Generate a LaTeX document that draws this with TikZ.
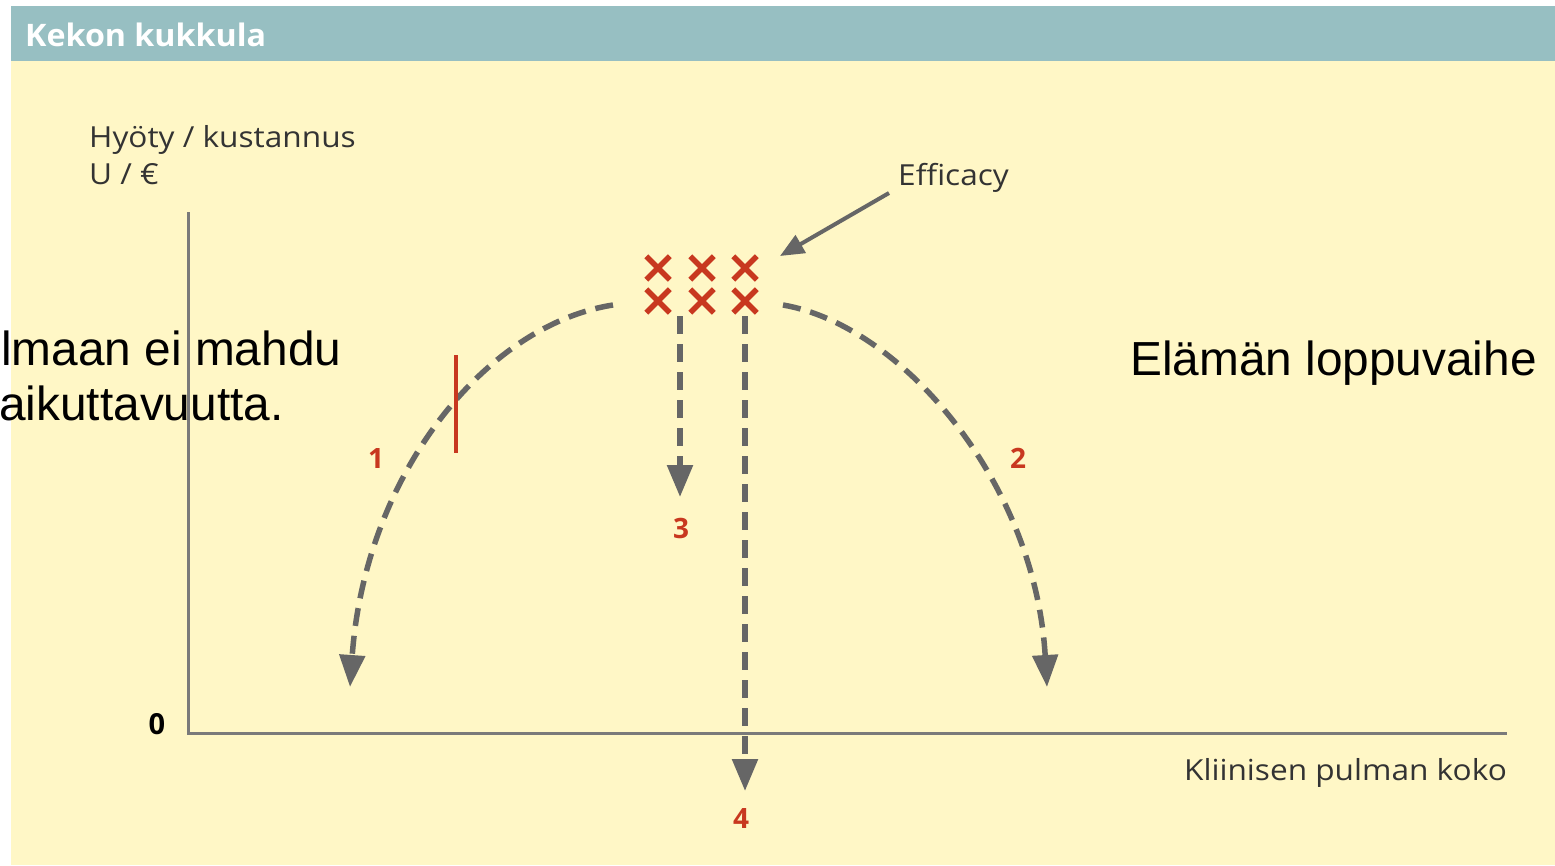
\documentclass[tikz,border=0pt]{standalone}
\usepackage{fontspec}
\setmainfont{Open Sans}
\newfontfamily\widesans{Open Sans}[FakeStretch=1.09]
\newfontfamily\titlesans{Open Sans}[FakeStretch=1.04]
\newfontfamily\arialf{Liberation Sans}
\usetikzlibrary{arrows.meta,shapes.misc}
\definecolor{hdr}{HTML}{97BFC2}
\definecolor{bg}{HTML}{FFF7C6}
\definecolor{axisc}{HTML}{7A7A7A}
\definecolor{dashc}{HTML}{666666}
\definecolor{redc}{HTML}{C8381F}
\definecolor{txt}{HTML}{333333}
\begin{document}
\begin{tikzpicture}[x=1pt,y=-1pt,
  dasharrow/.style={draw=dashc,line width=5.5pt,dash pattern=on 18pt off 10pt,
    -{Triangle[width=25pt,length=32pt]}},
  axisline/.style={draw=axisc,line width=3pt},
  lab/.style={font=\widesans\fontsize{29}{35}\selectfont,text=txt,inner sep=0pt},
  num/.style={font=\bfseries\fontsize{28}{34}\selectfont,text=redc,inner sep=0pt},
  overlaytxt/.style={font=\arialf\fontsize{47.8}{54}\selectfont,text=black,inner sep=0pt,anchor=base west},
  xmark/.style={draw=redc,cross out,line width=5.5pt,minimum size=18pt,inner sep=0pt},
  effarrow/.style={draw=dashc,line width=4pt,-{Triangle[width=20pt,length=24pt]}}
]
\useasboundingbox (0,0) rectangle (1555,865);
\fill[bg] (11,61) rectangle (1555,865);
\fill[hdr] (11,6) rectangle (1555,61);
\node[anchor=west,font=\titlesans\bfseries\fontsize{31}{36}\selectfont,text=white,inner sep=0pt] (title) at (25,35) {Kekon kukkula};

% axes
\coordinate (ytop) at (188,212);
\coordinate (O) at (188,733);
\coordinate (xend) at (1507,733);
\draw[axisline] (ytop) -- (O) -- (xend);
\node[font=\bfseries\fontsize{29}{35}\selectfont,text=black,inner sep=0pt] (zero) at (157,724) {0};
\node[lab,anchor=base west] (ylab1) at (89,147) {Hyöty / kustannus};
\node[lab,anchor=base west] (ylab2) at (89,184) {U / €};
\node[lab,anchor=base east] (xlab) at (1507,780) {Kliinisen pulman koko};

% crosses
\node[xmark] (c11) at (658,268) {};
\node[xmark] (c12) at (702,268) {};
\node[xmark] (c13) at (745,268) {};
\node[xmark] (c21) at (658,301) {};
\node[xmark] (c22) at (702,301) {};
\node[xmark] (c23) at (745,301) {};

% efficacy
\node[lab,anchor=base west] (eff) at (898,185) {Efficacy};
\coordinate (e0) at (889,193);
\coordinate (e1) at (780,256);
\draw[effarrow] (e0) -- (e1);

% arcs
\coordinate (l0) at (613,305);
\coordinate (l1) at (350,687);
\draw[dasharrow] (l0) .. controls (485,325) and (365,475) .. (l1);
\coordinate (r0) at (783,305);
\coordinate (r1) at (1047,687);
\draw[dasharrow] (r0) .. controls (900,325) and (1035,480) .. (r1);

% vertical arrows
\coordinate (a3s) at (680,316);
\coordinate (a3e) at (680,497);
\draw[dasharrow] (a3s) -- (a3e);
\coordinate (a4s) at (745,316);
\coordinate (a4e) at (745,791);
\draw[dasharrow] (a4s) -- (a4e);

% red marker
\coordinate (rl0) at (456,355);
\coordinate (rl1) at (456,453);
\draw[redc,line width=4pt] (rl0) -- (rl1);

% numbers
\node[num] (n1) at (376,458) {1};
\node[num] (n2) at (1018,458) {2};
\node[num] (n3) at (681,528) {3};
\node[num] (n4) at (741,818) {4};

% overlay texts
\node[overlaytxt] (ov1) at (1,365) {lmaan ei mahdu};
\node[overlaytxt] (ov2) at (-1,420) {aikuttavuutta.};
\node[overlaytxt] (ov3) at (1130,375) {Elämän loppuvaihe};
\end{tikzpicture}
\end{document}
